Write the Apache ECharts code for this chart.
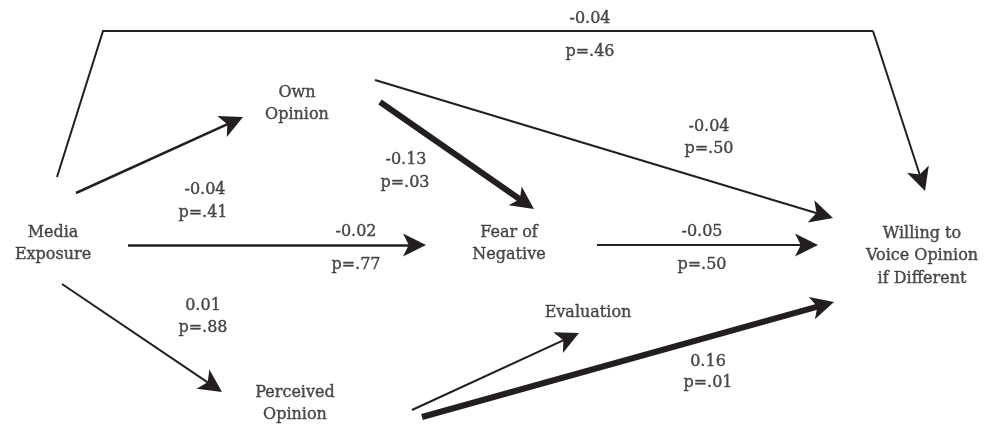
<!DOCTYPE html>
<html>
<head>
<meta charset="utf-8">
<script src="https://cdn.jsdelivr.net/npm/echarts@6/dist/echarts.min.js"></script>
<style>
  html, body { margin: 0; padding: 0; background: #fff; }
  #main { width: 987px; height: 425px; }
</style>
</head>
<body>
<div id="main"></div>
<script>
// variables in the path model
var nodeNames = ['Media\nExposure', 'Own\nOpinion', 'Fear of\nNegative', 'Evaluation', 'Perceived\nOpinion', 'Willing to\nVoice Opinion\nif Different'];
// path coefficients and p values (same order as the paths below)
var coefs = ['-0.04', '-0.04', '-0.13', '-0.04', '-0.02', '-0.05', '0.01', '', '0.16'];
var pValues = ['.46', '.41', '.03', '.50', '.77', '.50', '.88', '', '.01'];

// layout of the diagram (pixel space of the picture)
var nodePos = [[53, 244], [297, 104], [509, 244], [588, 313], [295, 404], [922, 256]];
// the direct path Media -> Willing goes round the top; its last leg carries the arrow
var bracketPoints = [[57, 177], [103, 31], [873, 31]];
// [start, arrow tip]
var pathPoints = [
  [[873, 31], [925, 191]],
  [[76, 193], [243, 117]],
  [[380, 102], [534, 209]],
  [[375, 80], [833, 218]],
  [[128, 245], [426, 245]],
  [[597, 245], [818, 245]],
  [[62, 284], [222, 392]],
  [[412, 410], [579, 333]],
  [[422, 417], [834, 302]]
];
var pathWidth = [2, 2.5, 6, 2, 2.5, 2, 2, 2, 6];
// label anchors: [coef x, coef y, p x, p y]
var labelPos = [
  [590, 19, 590, 52], [205, 190, 203, 213], [406, 160, 405, 183], [709, 127, 709, 149],
  [356, 232, 356, 265], [702, 232, 702, 265], [203, 306, 203, 328], null, [708, 362, 708, 383]
];

var font = 'DejaVu Serif';
var ink = '#231f20';
var headSize = 23;
var head = 'path://M12,0 L24,24 L12,18 L0,24 Z';

// the arrow symbol sits centred on the line end, so pull the end back by half a head
var lineData = pathPoints.map(function (pts, i) {
  var a = pts[0], b = pts[1];
  var dx = b[0] - a[0], dy = b[1] - a[1];
  var len = Math.sqrt(dx * dx + dy * dy);
  var end = [b[0] - dx / len * headSize / 2, b[1] - dy / len * headSize / 2];
  return { coords: [a, end], lineStyle: { width: pathWidth[i] } };
});
var nodeData = nodeNames.map(function (n, i) {
  return { value: nodePos[i], label: { formatter: n } };
});
var labelData = [];
coefs.forEach(function (c, i) {
  if (!labelPos[i]) return;
  labelData.push({ value: [labelPos[i][0], labelPos[i][1]], label: { formatter: c } });
  labelData.push({ value: [labelPos[i][2], labelPos[i][3]], label: { formatter: 'p=' + pValues[i] } });
});

function textStyle() {
  return {
    show: true, position: 'inside', color: ink,
    fontFamily: font, fontSize: 16, lineHeight: 22.5, align: 'center',
    textBorderColor: ink, textBorderWidth: 0.4
  };
}

var chart = echarts.init(document.getElementById('main'));
chart.setOption({
  animation: false,
  grid: { left: 0, right: 0, top: 0, bottom: 0 },
  xAxis: { type: 'value', min: 0, max: 987, show: false },
  yAxis: { type: 'value', min: 0, max: 425, inverse: true, show: false },
  series: [
    {
      type: 'lines',
      coordinateSystem: 'cartesian2d',
      polyline: true,
      lineStyle: { color: ink, opacity: 1, width: 2, join: 'miter' },
      data: [{ coords: bracketPoints }]
    },
    {
      type: 'lines',
      coordinateSystem: 'cartesian2d',
      symbol: ['none', head],
      symbolSize: headSize,
      itemStyle: { color: ink },
      lineStyle: { color: ink, opacity: 1, curveness: 0 },
      data: lineData
    },
    {
      type: 'scatter',
      symbolSize: 0,
      label: textStyle(),
      data: nodeData
    },
    {
      type: 'scatter',
      symbolSize: 0,
      label: textStyle(),
      data: labelData
    }
  ]
});
</script>
</body>
</html>
